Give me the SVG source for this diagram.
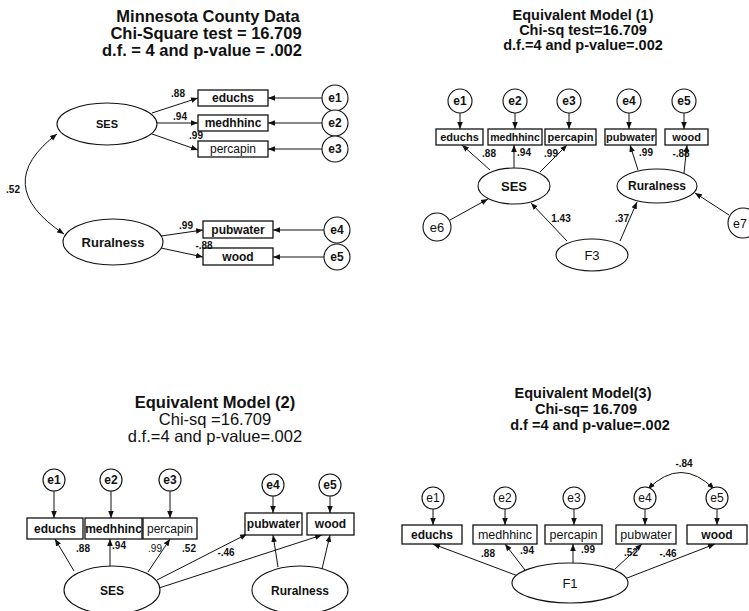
<svg xmlns="http://www.w3.org/2000/svg" width="749" height="611" viewBox="0 0 749 611">
<style>
text{font-family:"Liberation Sans",Arial,sans-serif;fill:#111;text-anchor:middle}
.t{font-weight:bold}
.n{fill:#fff;stroke:#111;stroke-width:1.1}
.b{fill:#fff;stroke:#111;stroke-width:1.3}
.c line,.c path{stroke:#111;stroke-width:1;fill:none;marker-end:url(#ah)}
.c .cv{marker-start:url(#ah)}
.lb{font-size:10px;font-weight:bold}
.bx{font-size:12px;font-weight:bold}
</style>
<defs>
<marker id="ah" viewBox="0 0 10 10" refX="10" refY="5" markerWidth="7" markerHeight="7" markerUnits="userSpaceOnUse" orient="auto-start-reverse"><path d="M0,1 L10,5 L0,9 z" fill="#111"/></marker>
</defs>
<rect width="749" height="611" fill="#fff"/>

<!-- Panel 1 titles -->
<g id="title1" class="t" font-size="16.5">
<text x="208" y="22">Minnesota County Data</text>
<text x="206" y="39">Chi-Square test = 16.709</text>
<text x="202" y="56">d.f. = 4 and p-value = .002</text>
</g>

<!-- Panel 1 connectors -->
<g id="conn1" class="c">
<line x1="322" y1="98" x2="268" y2="98"/>
<line x1="322" y1="123" x2="268" y2="123"/>
<line x1="322" y1="149" x2="268" y2="149"/>
<line x1="324" y1="230" x2="273" y2="230"/>
<line x1="324" y1="257" x2="273" y2="257"/>
<line x1="152" y1="113" x2="198" y2="98"/>
<line x1="157" y1="123" x2="198" y2="123"/>
<line x1="152" y1="134" x2="198" y2="150"/>
<line x1="161" y1="236" x2="203" y2="230"/>
<line x1="161" y1="248" x2="203" y2="257"/>
<path class="cv" d="M57,134 Q-10,185 64,234"/>
</g>
<g id="p1-SES"><ellipse class="n" cx="107" cy="124" rx="50" ry="21"/><text x="107" y="128" font-size="11" class="t">SES</text></g>
<g id="p1-Ruralness"><ellipse class="n" cx="113" cy="242" rx="50" ry="23"/><text x="113" y="247" font-size="13" class="t">Ruralness</text></g>
<g id="p1-educhs"><rect class="b" x="198" y="90" width="70" height="16"/><text class="bx" x="233" y="102">educhs</text></g>
<g id="p1-medhhinc"><rect class="b" x="198" y="115" width="70" height="16"/><text class="bx" x="233" y="127">medhhinc</text></g>
<g id="p1-percapin"><rect class="b" x="198" y="141" width="70" height="16"/><text x="233" y="153" font-size="12">percapin</text></g>
<g id="p1-pubwater"><rect class="b" x="203" y="221" width="70" height="17"/><text class="bx" x="238" y="234">pubwater</text></g>
<g id="p1-wood"><rect class="b" x="203" y="248" width="70" height="17"/><text class="bx" x="238" y="261">wood</text></g>
<g id="p1-e1"><circle class="n" cx="335" cy="98" r="13"/><text class="bx" x="335" y="102">e1</text></g>
<g id="p1-e2"><circle class="n" cx="335" cy="123" r="13"/><text class="bx" x="335" y="127">e2</text></g>
<g id="p1-e3"><circle class="n" cx="335" cy="149" r="13"/><text class="bx" x="335" y="153">e3</text></g>
<g id="p1-e4"><circle class="n" cx="337" cy="230" r="13"/><text class="bx" x="337" y="234">e4</text></g>
<g id="p1-e5"><circle class="n" cx="337" cy="257" r="13"/><text class="bx" x="337" y="261">e5</text></g>
<g id="p1-labels" class="lb">
<text x="178" y="97">.88</text>
<text x="180" y="120">.94</text>
<text x="196" y="139">.99</text>
<text x="13" y="193">.52</text>
<text x="186" y="229">.99</text>
<text x="204" y="249">-.88</text>
</g>

<!-- Panel 2 -->
<g id="title2" class="t" font-size="14.5">
<text x="583" y="20">Equivalent Model (1)</text>
<text x="583" y="35">Chi-sq test=16.709</text>
<text x="583" y="50">d.f.=4 and p-value=.002</text>
</g>
<g id="conn2" class="c">
<line x1="460" y1="113" x2="460" y2="129"/>
<line x1="515" y1="113" x2="515" y2="129"/>
<line x1="569" y1="113" x2="569" y2="129"/>
<line x1="629" y1="113" x2="629" y2="129"/>
<line x1="684" y1="113" x2="684" y2="129"/>
<line x1="490" y1="170" x2="462" y2="145"/>
<line x1="514" y1="168" x2="514" y2="145"/>
<line x1="540" y1="172" x2="567" y2="145"/>
<line x1="638" y1="170" x2="630" y2="145"/>
<line x1="684" y1="173" x2="687" y2="145"/>
<line x1="567" y1="241" x2="531" y2="203"/>
<line x1="620" y1="241" x2="637" y2="202"/>
<line x1="450" y1="220" x2="488" y2="199"/>
<line x1="729" y1="215" x2="695" y2="193"/>
</g>
<g id="p2-e1"><circle class="n" cx="460" cy="101" r="12"/><text class="bx" x="460" y="105">e1</text></g>
<g id="p2-e2"><circle class="n" cx="515" cy="101" r="12"/><text class="bx" x="515" y="105">e2</text></g>
<g id="p2-e3"><circle class="n" cx="569" cy="101" r="12"/><text class="bx" x="569" y="105">e3</text></g>
<g id="p2-e4"><circle class="n" cx="629" cy="101" r="12"/><text class="bx" x="629" y="105">e4</text></g>
<g id="p2-e5"><circle class="n" cx="684" cy="101" r="12"/><text class="bx" x="684" y="105">e5</text></g>
<g id="p2-educhs"><rect class="b" x="436" y="129" width="47" height="16"/><text class="t" font-size="11" x="459.5" y="141">educhs</text></g>
<g id="p2-medhhinc"><rect class="b" x="488" y="129" width="54" height="16"/><text class="t" font-size="10.5" x="515" y="141">medhhinc</text></g>
<g id="p2-percapin"><rect class="b" x="545" y="129" width="51" height="16"/><text class="t" font-size="11" x="570.5" y="141">percapin</text></g>
<g id="p2-pubwater"><rect class="b" x="605" y="129" width="51" height="16"/><text class="t" font-size="11" x="630.5" y="141">pubwater</text></g>
<g id="p2-wood"><rect class="b" x="665" y="129" width="43" height="16"/><text class="t" font-size="11" x="686.5" y="141">wood</text></g>
<g id="p2-SES"><ellipse class="n" cx="514" cy="186" rx="36" ry="18"/><text class="t" font-size="13" x="514" y="191">SES</text></g>
<g id="p2-Ruralness"><ellipse class="n" cx="657" cy="186" rx="40" ry="17"/><text class="t" font-size="12" x="657" y="190">Ruralness</text></g>
<g id="p2-F3"><ellipse class="n" cx="592" cy="255" rx="36" ry="16"/><text x="592" y="260" font-size="13">F3</text></g>
<g id="p2-e6"><circle class="n" cx="437" cy="227" r="14"/><text x="437" y="232" font-size="13">e6</text></g>
<g id="p2-e7"><circle class="n" cx="743" cy="223" r="15"/><text x="740" y="228" font-size="12.5">e7</text></g>
<g id="p2-labels" class="lb">
<text x="489" y="157">.88</text>
<text x="524" y="156">.94</text>
<text x="551" y="157">.99</text>
<text x="646" y="156">.99</text>
<text x="681" y="157">-.88</text>
<text x="561" y="222">1.43</text>
<text x="622" y="222">.37</text>
</g>

<!-- Panel 3 -->
<g id="title3" font-size="16.5">
<text class="t" x="215" y="408">Equivalent Model (2)</text>
<text x="215" y="425">Chi-sq =16.709</text>
<text x="215" y="442">d.f.=4 and p-value=.002</text>
</g>
<g id="conn3" class="c">
<line x1="54" y1="491" x2="54" y2="518"/>
<line x1="111" y1="491" x2="111" y2="518"/>
<line x1="170" y1="491" x2="170" y2="518"/>
<line x1="273" y1="496" x2="273" y2="513"/>
<line x1="330" y1="496" x2="330" y2="513"/>
<line x1="74" y1="571" x2="55" y2="539"/>
<line x1="110" y1="566" x2="110" y2="539"/>
<line x1="148" y1="572" x2="170" y2="539"/>
<line x1="157" y1="580" x2="247" y2="534"/>
<line x1="159" y1="588" x2="322" y2="535"/>
<line x1="278" y1="567" x2="273" y2="535"/>
<line x1="322" y1="569" x2="330" y2="535"/>
</g>
<g id="p3-e1"><circle class="n" cx="54" cy="480" r="11"/><text class="bx" x="54" y="484">e1</text></g>
<g id="p3-e2"><circle class="n" cx="111" cy="480" r="11"/><text class="bx" x="111" y="484">e2</text></g>
<g id="p3-e3"><circle class="n" cx="170" cy="480" r="11"/><text class="bx" x="170" y="484">e3</text></g>
<g id="p3-e4"><circle class="n" cx="273" cy="485" r="11"/><text class="bx" x="273" y="489">e4</text></g>
<g id="p3-e5"><circle class="n" cx="330" cy="485" r="11"/><text class="bx" x="330" y="489">e5</text></g>
<g id="p3-educhs"><rect class="b" x="27" y="518" width="56" height="21"/><text class="bx" x="55" y="533">educhs</text></g>
<g id="p3-medhhinc"><rect class="b" x="85" y="518" width="57" height="21"/><text class="bx" x="113.5" y="533">medhhinc</text></g>
<g id="p3-percapin"><rect class="b" x="143" y="518" width="54" height="21"/><text x="170" y="533" font-size="12">percapin</text></g>
<g id="p3-pubwater"><rect class="b" x="245" y="513" width="57" height="22"/><text class="bx" x="273.5" y="528">pubwater</text></g>
<g id="p3-wood"><rect class="b" x="307" y="513" width="47" height="22"/><text class="bx" x="330.5" y="528">wood</text></g>
<g id="p3-SES"><ellipse class="n" cx="112" cy="590" rx="48" ry="24"/><text class="t" font-size="12" x="112" y="595">SES</text></g>
<g id="p3-Ruralness"><ellipse class="n" cx="300" cy="590" rx="48" ry="24"/><text class="t" font-size="12" x="300" y="595">Ruralness</text></g>
<g id="p3-labels" class="lb">
<text x="83" y="552">.88</text>
<text x="119" y="549">.94</text>
<text x="155" y="552" font-weight="normal">.99</text>
<text x="189" y="552">.52</text>
<text x="226" y="556">-.46</text>
</g>

<!-- Panel 4 -->
<g id="title4" class="t" font-size="14.5">
<text x="583" y="398">Equivalent Model(3)</text>
<text x="586" y="414">Chi-sq= 16.709</text>
<text x="590" y="430">d.f =4 and p-value=.002</text>
</g>
<g id="conn4" class="c">
<line x1="433" y1="509" x2="433" y2="525"/>
<line x1="505" y1="509" x2="505" y2="525"/>
<line x1="574" y1="509" x2="574" y2="525"/>
<line x1="645" y1="509" x2="645" y2="525"/>
<line x1="717" y1="509" x2="717" y2="525"/>
<line x1="518" y1="576" x2="433" y2="544"/>
<line x1="525" y1="570" x2="505" y2="544"/>
<line x1="573" y1="563" x2="573" y2="544"/>
<line x1="615" y1="569" x2="642" y2="544"/>
<line x1="627" y1="578" x2="715" y2="544"/>
<path class="cv" d="M648,489 Q681,456 714,489"/>
</g>
<g id="p4-e1"><circle class="n" cx="433" cy="498" r="11"/><text x="433" y="502" font-size="12">e1</text></g>
<g id="p4-e2"><circle class="n" cx="505" cy="498" r="11"/><text x="505" y="502" font-size="12">e2</text></g>
<g id="p4-e3"><circle class="n" cx="574" cy="498" r="11"/><text x="574" y="502" font-size="12">e3</text></g>
<g id="p4-e4"><circle class="n" cx="645" cy="498" r="11"/><text x="645" y="502" font-size="12">e4</text></g>
<g id="p4-e5"><circle class="n" cx="717" cy="498" r="11"/><text x="717" y="502" font-size="12">e5</text></g>
<g id="p4-educhs"><rect class="b" x="402" y="525" width="60" height="19"/><text class="bx" x="432" y="539">educhs</text></g>
<g id="p4-medhhinc"><rect class="b" x="473" y="525" width="64" height="19"/><text x="505" y="539" font-size="12.5">medhhinc</text></g>
<g id="p4-percapin"><rect class="b" x="545" y="525" width="57" height="19"/><text x="573.5" y="539" font-size="12.5">percapin</text></g>
<g id="p4-pubwater"><rect class="b" x="616" y="525" width="60" height="19"/><text x="646" y="539" font-size="12.5">pubwater</text></g>
<g id="p4-wood"><rect class="b" x="687" y="525" width="60" height="19"/><text class="bx" x="717" y="539">wood</text></g>
<g id="p4-F1"><ellipse class="n" cx="570" cy="583" rx="58" ry="20"/><text x="570" y="588" font-size="13">F1</text></g>
<g id="p4-labels" class="lb">
<text x="488" y="557">.88</text>
<text x="527" y="554">.94</text>
<text x="588" y="553">.99</text>
<text x="631" y="556">.52</text>
<text x="668" y="557">-.46</text>
<text x="684" y="467">-.84</text>
</g>
</svg>
